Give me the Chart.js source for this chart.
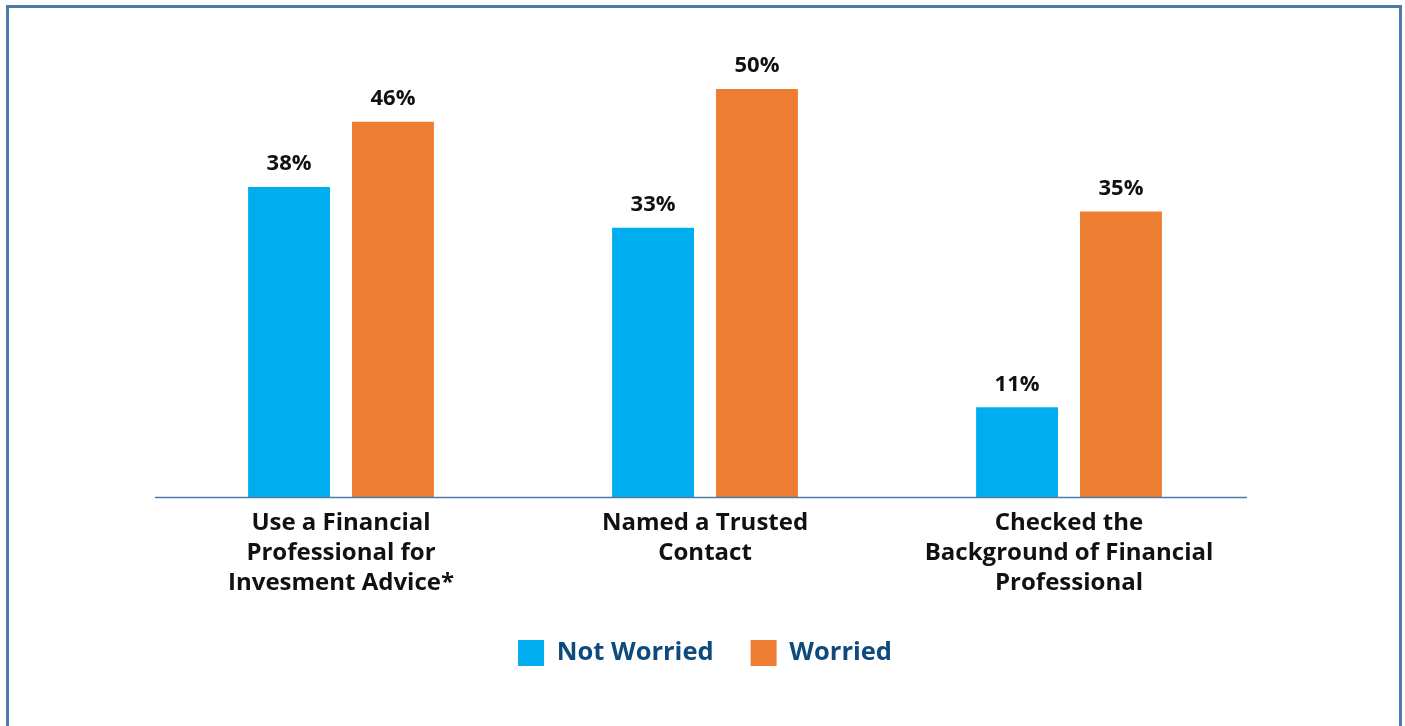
<!DOCTYPE html>
<html>
<head>
<meta charset="utf-8">
<script src="https://cdn.jsdelivr.net/npm/chart.js@4.4.1/dist/chart.umd.min.js"></script>
<style>
    html, body { margin: 0; padding: 0; background: #fff; }
    .wrap  { position: relative; width: 1405px; height: 726px; overflow: hidden; }
    .frame { position: absolute; left: 6px; top: 5px; width: 1396px; height: 760px;
             border: 3px solid #4d7ba7; border-bottom: none; box-sizing: border-box; }
    canvas { position: absolute; left: 0; top: 0; }
</style>
</head>
<body>
<div class="wrap">
    <div class="frame"></div>
    <canvas id="chart" width="1405" height="726"></canvas>
</div>
<script>
const categories = [
    ["Use a Financial", "Professional for", "Invesment Advice*"],
    ["Named a Trusted", "Contact"],
    ["Checked the", "Background of Financial", "Professional"]
];
const seriesNames = ["Not Worried", "Worried"];
const notWorried  = [38, 33, 11];
const worried     = [46, 50, 35];

const FONT = "'Open Sans', 'Noto Sans', sans-serif";

/* value labels above each bar + the axis baseline */
const barLabels = {
    id: "barLabels",
    afterDatasetsDraw(chart) {
        const ctx = chart.ctx;
        const area = chart.chartArea;
        ctx.save();
        ctx.strokeStyle = "#4d7ba7";
        ctx.lineWidth = 1.5;
        ctx.beginPath();
        ctx.moveTo(area.left - 4, area.bottom + 0.5);
        ctx.lineTo(area.right - 4, area.bottom + 0.5);
        ctx.stroke();

        ctx.font = `bold 22px ${FONT}`;
        ctx.fillStyle = "#111";
        ctx.textAlign = "center";
        ctx.textBaseline = "middle";
        chart.data.datasets.forEach((ds, i) => {
            chart.getDatasetMeta(i).data.forEach((bar, j) => {
                ctx.fillText(ds.data[j] + "%", bar.x, bar.y - 23);
            });
        });
        ctx.restore();
    }
};

new Chart(document.getElementById("chart"), {
    type: "bar",
    data: {
        labels: categories,
        datasets: [
            { label: seriesNames[0], data: notWorried, backgroundColor: "#00aeef" },
            { label: seriesNames[1], data: worried,    backgroundColor: "#ed7d31" }
        ]
    },
    options: {
        responsive: false,
        animation: false,
        events: [],
        datasets: { bar: { categoryPercentage: 0.571, barPercentage: 0.788 } },
        layout: { padding: { left: 159, right: 154, top: 89, bottom: 50 } },
        scales: {
            x: {
                grid:   { display: false, drawTicks: false },
                border: { display: false },
                ticks:  { color: "#111", font: { family: FONT, size: 24, weight: "bold", lineHeight: 1.25 }, padding: 11, maxRotation: 0, autoSkip: false },
                afterFit: s => { s.height = 106; }
            },
            y: { display: false, min: 0, max: 50 }
        },
        plugins: {
            legend: {
                position: "bottom",
                labels: {
                    boxWidth: 26, boxHeight: 26, padding: 37,
                    color: "#0f4a7d",
                    font: { family: FONT, size: 25.5, weight: "bold" }
                }
            },
            tooltip: { enabled: false }
        }
    },
    plugins: [barLabels]
});
</script>
</body>
</html>
